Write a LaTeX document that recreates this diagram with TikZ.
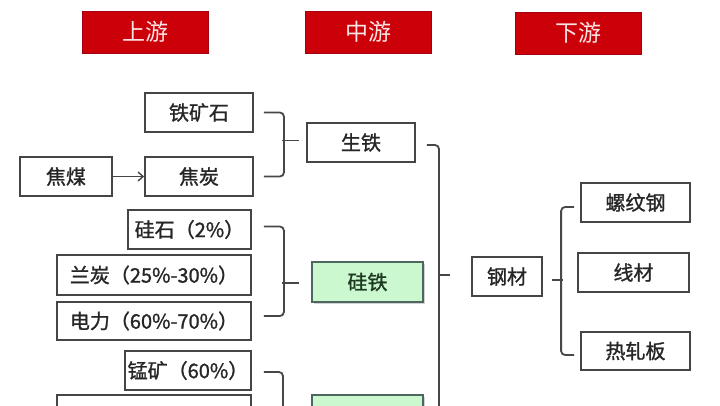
\documentclass[tikz,border=0pt]{standalone}
\usepackage{fontspec}
\newfontfamily\cjk{Noto Sans CJK SC}
\newfontfamily\cjkb[FakeBold=1.2]{Noto Sans CJK SC}
\usetikzlibrary{shadows,arrows.meta}
\definecolor{hred}{HTML}{CC0008}
\definecolor{hredd}{HTML}{A00010}
\definecolor{hdrtxt}{HTML}{FBE4E4}
\definecolor{boxc}{HTML}{454545}
\definecolor{txtc}{HTML}{262626}
\definecolor{lgreen}{HTML}{CCF8D0}
\definecolor{gborder}{HTML}{4E6660}
\definecolor{gtxt}{HTML}{1E3A22}
\definecolor{brkc}{HTML}{474747}
\tikzset{
  box/.style={draw=boxc, line width=1.8pt, fill=white, inner sep=0pt, text=txtc,
    font=\cjkb\fontsize{20}{22}\selectfont},
  hdr/.style={fill=hred, draw=hredd, line width=0.8pt, inner sep=0pt, text=hdrtxt,
    minimum width=126, minimum height=42, font=\cjk\fontsize{23}{25}\selectfont},
  grn/.style={box, fill=lgreen, draw=gborder, text=gtxt,
    drop shadow={shadow xshift=2pt, shadow yshift=-2pt, opacity=0.35}},
  brk/.style={draw=brkc, line width=1.8pt, rounded corners=4pt},
}
\begin{document}
\begin{tikzpicture}[x=1pt, y=-1pt]
\useasboundingbox (0,0) rectangle (720,405);
\clip (0,0) rectangle (720,405);
\fill[white] (0,0) rectangle (720,405);

% headers
\node[hdr] (h1) at (145.5,32) {上游};
\node[hdr] (h2) at (368,32) {中游};
\node[hdr] (h3) at (578,33) {下游};

% upstream
\node[box, minimum width=108, minimum height=39] (tks) at (199,112.5) {铁矿石};
\node[box, minimum width=92, minimum height=39] (jm) at (66,176.5) {焦煤};
\node[box, minimum width=108, minimum height=39] (jt) at (199,176.5) {焦炭};
\node[box, minimum width=123, minimum height=39] (gs) at (189.5,229.5) {硅石（2\%）};
\node[box, minimum width=194, minimum height=40] (lt) at (154,275) {兰炭（25\%-30\%）};
\node[box, minimum width=194, minimum height=38] (dl) at (154,321) {电力（60\%-70\%）};
\node[box, minimum width=126, minimum height=39] (mk) at (188,370.5) {锰矿（60\%）};
\node[box, minimum width=194, minimum height=38] (nx) at (154,414) {};

% midstream
\node[box, minimum width=108, minimum height=39] (st) at (361,142.5) {生铁};
\node[grn, minimum width=111, minimum height=40] (gt) at (367.5,282) {硅铁};
\node[grn, minimum width=111, minimum height=40] (g2) at (367.5,415) {};

% downstream
\node[box, minimum width=70, minimum height=39] (gc) at (507,276.5) {钢材};
\node[box, minimum width=109, minimum height=39] (lw) at (635.5,202.5) {螺纹钢};
\node[box, minimum width=111, minimum height=39] (xc) at (633.5,272.5) {线材};
\node[box, minimum width=109, minimum height=38] (rz) at (635.5,351) {热轧板};

% arrow
\draw[draw=boxc, line width=1.4pt, -{Straight Barb[length=5pt,width=9pt]}] (jm) -- (jt);

% bracket 1
\draw[brk] ([xshift=10pt]tks.east) -| ([xshift=30pt]jt.east) -- ([xshift=10pt]jt.east);
\draw[brk] ([xshift=-24pt,yshift=2pt]st.west) -- ([xshift=-7pt,yshift=2pt]st.west);
% bracket 2
\draw[brk] ([xshift=12pt,yshift=3pt]gs.east) -| ([xshift=32pt,yshift=5pt]dl.east) -- ([xshift=12pt,yshift=5pt]dl.east);
\draw[brk] ([xshift=-29pt,yshift=-1pt]gt.west) -- ([xshift=-12pt,yshift=-1pt]gt.west);
% bracket 3
\coordinate (b3end) at (283,420);
\draw[brk] ([xshift=12pt,yshift=-1.5pt]mk.east) -| (b3end);
% big bracket
\coordinate (bigend) at (439,420);
\draw[brk] ([xshift=11pt,yshift=-2.5pt]st.east) -| (bigend);
\draw[brk] ([xshift=-33pt,yshift=1.5pt]gc.west) -- ([xshift=-21pt,yshift=1.5pt]gc.west);
% right bracket
\draw[brk] ([xshift=-6pt,yshift=-4.5pt]lw.west) -| ([xshift=-19pt,yshift=-4pt]rz.west) -- ([xshift=-6pt,yshift=-4pt]rz.west);
\draw[brk] ([xshift=-21pt]gc.east) ++(30pt,-3.5pt) -- ++(11pt,0);
\end{tikzpicture}
\end{document}
